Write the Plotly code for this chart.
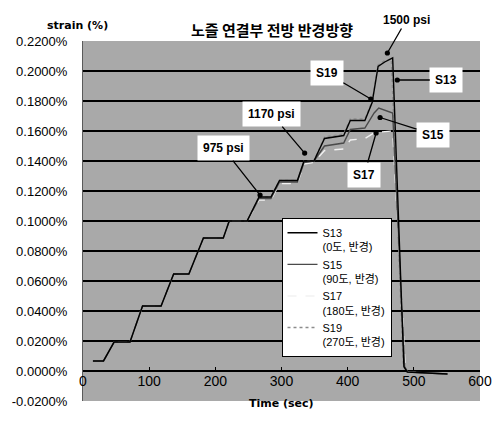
import plotly.graph_objects as go

# Time (sec) and radial strain (%) for the four gauges at the nozzle front
time_s13 = [15, 31, 47, 71, 90, 118, 137, 160, 182, 212, 221, 248, 266, 284, 297, 324, 334, 349,
            365, 394, 404, 426, 437, 446, 456, 468, 485, 490, 551]
s13 = [0.0067, 0.0067, 0.0193, 0.0193, 0.0433, 0.0433, 0.0647, 0.0647, 0.0887, 0.0887, 0.1000,
       0.1000, 0.1160, 0.1160, 0.1270, 0.1270, 0.1400, 0.1400, 0.1550, 0.1570, 0.1670, 0.1670,
       0.1790, 0.2030, 0.2060, 0.2087, 0.0030, -0.0007, -0.0020]

time_s15 = [15, 31, 47, 71, 90, 118, 137, 160, 182, 212, 221, 248, 266, 284, 297, 324, 334, 349,
            365, 394, 404, 426, 440, 447, 468, 486, 491, 551]
s15 = [0.0067, 0.0067, 0.0193, 0.0193, 0.0433, 0.0433, 0.0647, 0.0647, 0.0887, 0.0887, 0.1000,
       0.1000, 0.1150, 0.1150, 0.1260, 0.1260, 0.1390, 0.1400, 0.1500, 0.1520, 0.1610, 0.1620,
       0.1720, 0.1753, 0.1720, 0.0030, -0.0007, -0.0020]

time_s17 = [15, 31, 47, 71, 90, 118, 137, 160, 182, 212, 221, 248, 266, 284, 297, 324, 334, 349,
            365, 394, 404, 426, 441, 468, 487, 491, 551]
s17 = [0.0067, 0.0067, 0.0193, 0.0193, 0.0433, 0.0433, 0.0647, 0.0647, 0.0887, 0.0887, 0.1000,
       0.1000, 0.1140, 0.1140, 0.1250, 0.1250, 0.1380, 0.1390, 0.1470, 0.1480, 0.1540, 0.1550,
       0.1590, 0.1600, 0.0030, -0.0007, -0.0020]

time_s19 = [15, 31, 47, 71, 90, 118, 137, 160, 182, 212, 221, 248, 266, 284, 297, 324, 334, 349,
            365, 394, 404, 426, 437, 446, 456, 466, 484, 490, 551]
s19 = [0.0067, 0.0067, 0.0193, 0.0193, 0.0433, 0.0433, 0.0647, 0.0647, 0.0887, 0.0887, 0.1000,
       0.1000, 0.1160, 0.1160, 0.1270, 0.1270, 0.1400, 0.1400, 0.1560, 0.1580, 0.1680, 0.1680,
       0.1800, 0.2040, 0.2070, 0.2080, 0.0030, -0.0007, -0.0020]

series_names = ["S13<br>(0도, 반경)", "S15<br>(90도, 반경)", "S17<br>(180도, 반경)", "S19<br>(270도, 반경)"]
series_colors = ["#000000", "#4a4a4a", "#f2f2f2", "#8c8c8c"]
series_dash = ["solid", "solid", "dash", "dot"]

y_ticks = [-0.02, 0.0, 0.02, 0.04, 0.06, 0.08, 0.10, 0.12, 0.14, 0.16, 0.18, 0.20, 0.22]
x_ticks = [0, 100, 200, 300, 400, 500, 600]

# Pressure / gauge callouts: (text, time, strain, dx px, dy px, boxed)
callouts = [
    ("975 psi", 267.6, 0.1173, -37, -47, True),
    ("1170 psi", 335, 0.1453, -33, -39, True),
    ("1500 psi", 460, 0.2120, 19, -33, False),
    ("S19", 435, 0.1813, -44, -26, True),
    ("S13", 475, 0.1940, 49, 0, True),
    ("S15", 449, 0.1690, 53, 17, True),
    ("S17", 443, 0.1587, -12, 42, True),
]

fig = go.Figure()
traces = [(time_s19, s19), (time_s17, s17), (time_s15, s15), (time_s13, s13)]
order = [3, 2, 1, 0]
for (t, s), i in zip(traces, order):
    fig.add_trace(go.Scatter(
        x=t, y=s, mode="lines", name=series_names[i],
        line=dict(color=series_colors[i], width=1.4, dash=series_dash[i]),
        legendrank=i + 1,
    ))

for text, tx, sy, dx, dy, boxed in callouts:
    fig.add_annotation(
        x=tx, y=sy, xref="x", yref="y", ax=dx, ay=dy,
        text=f"<b>{text}</b>", showarrow=True,
        arrowhead=6, arrowsize=1, arrowwidth=1.3, arrowcolor="#000000",
        font=dict(family="Liberation Sans, Arial", size=12, color="#000000"),
        bgcolor="#ffffff" if boxed else "rgba(0,0,0,0)",
        borderpad=5 if boxed else 1,
    )

# Titles drawn as paper-level text
fig.add_annotation(x=273, y=17, xref="paper", yref="paper", text="<b>노즐 연결부 전방 반경방향</b>",
                   showarrow=False, font=dict(family="Noto Sans CJK KR", size=15, color="#000000"))
fig.add_annotation(x=40, y=17, xref="paper", yref="paper", text="<b>strain (%)</b>",
                   showarrow=False, font=dict(family="DejaVu Sans", size=11, color="#000000"))
fig.add_annotation(x=283, y=412, xref="paper", yref="paper", text="<b>Time (sec)</b>",
                   showarrow=False, font=dict(family="DejaVu Sans", size=11, color="#000000"))

W, H = 504, 430
ML, MR, MT, MB = 79, 17, 41, 29
pw, ph = W - ML - MR, H - MT - MB
# convert pixel positions of the paper-level text into paper fractions
for ann in fig.layout.annotations:
    if ann.xref == "paper":
        ann.x = (ann.x - ML) / pw
        ann.y = 1 - (ann.y - MT) / ph

fig.update_layout(
    width=W, height=H,
    margin=dict(l=ML, r=MR, t=MT, b=MB),
    paper_bgcolor="#ffffff",
    plot_bgcolor="#a9a9a9",
    showlegend=True,
    legend=dict(
        x=0.5, y=0.508, xanchor="left", yanchor="top",
        bgcolor="#ffffff", bordercolor="#000000", borderwidth=1,
        font=dict(family="Liberation Sans, Noto Sans CJK KR", size=11, color="#000000"),
        valign="top", tracegroupgap=0, itemwidth=30,
    ),
    xaxis=dict(
        range=[0, 600], tickvals=x_ticks, ticktext=[str(v) for v in x_ticks],
        showgrid=False, zeroline=False, showline=False,
        anchor="free", position=(0 - y_ticks[0]) / (y_ticks[-1] - y_ticks[0]),
        ticks="inside", ticklen=4, tickcolor="#000000",
        tickfont=dict(family="Liberation Sans, Arial", size=14, color="#000000"),
    ),
    yaxis=dict(
        range=[y_ticks[0], y_ticks[-1]], tickvals=y_ticks,
        ticktext=[f"{v:.4f}%" for v in y_ticks],
        showgrid=True, gridcolor="#000000", gridwidth=2,
        zeroline=False, showline=True, linecolor="#5a5a5a", linewidth=1,
        ticks="", ticklabelstandoff=12,
        tickfont=dict(family="Liberation Sans, Arial", size=13, color="#000000"),
    ),
)

fig.write_html("out.html")
